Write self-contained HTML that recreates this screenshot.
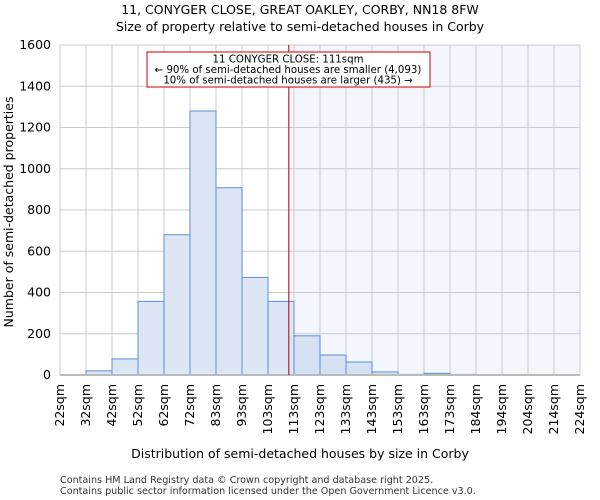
<!DOCTYPE html>
<html><head><meta charset="utf-8"><style>body{margin:0;background:#fff}svg{display:block;font-family:"DejaVu Sans","Liberation Sans",sans-serif}</style></head>
<body>
<svg id="chart" width="600" height="500">
<text x="300" y="14" text-anchor="middle" font-size="12.5">11, CONYGER CLOSE, GREAT OAKLEY, CORBY, NN18 8FW</text>
<text x="300" y="31" text-anchor="middle" font-size="12.5">Size of property relative to semi-detached houses in Corby</text>
<g id="plot"></g>
<text x="300" y="458" text-anchor="middle" font-size="12.5">Distribution of semi-detached houses by size in Corby</text>
<text transform="translate(13,212) rotate(-90)" text-anchor="middle" font-size="12.5">Number of semi-detached properties</text>
<text x="60" y="483" font-size="9.6" fill="#333">Contains HM Land Registry data © Crown copyright and database right 2025.</text>
<text x="60" y="494" font-size="9.6" fill="#333">Contains public sector information licensed under the Open Government Licence v3.0.</text>
</svg>
<script>
const binLabels=["22sqm","32sqm","42sqm","52sqm","62sqm","72sqm","83sqm","93sqm","103sqm","113sqm","123sqm","133sqm","143sqm","153sqm","163sqm","173sqm","184sqm","194sqm","204sqm","214sqm","224sqm"];
const counts=[0,20,78,357,680,1280,908,473,357,190,97,63,15,3,8,3,0,0,0,0,0];
const yTicks=[0,200,400,600,800,1000,1200,1400,1600];
const markerBin=8.8;
const L=60,R=580,T=45,B=375,yMax=1600,nb=20;
const xs=i=>L+(R-L)*i/nb;
const ys=v=>B-(B-T)*v/yMax;
const NS="http://www.w3.org/2000/svg";
const g=document.getElementById('plot');
function mk(t,a,p){const e=document.createElementNS(NS,t);for(const k in a)e.setAttribute(k,a[k]);(p||g).appendChild(e);return e;}
const mx=xs(markerBin);
const hl=mk('rect',{x:mx,y:T,width:R-mx,height:B-T,fill:'#f3f6fd'});


for(let i=0;i<=nb;i++){const l=mk('line',{x1:xs(i),x2:xs(i),y1:T,y2:B,stroke:'#ccc','stroke-width':1});

}
yTicks.forEach(v=>{const l=mk('line',{x1:L,x2:R,y1:ys(v),y2:ys(v),stroke:'#ccc','stroke-width':1});


const t=mk('text',{x:L-9,y:ys(v)+4,'text-anchor':'end','font-size':12.5});t.textContent=v;

});
for(let i=0;i<nb;i++){if(counts[i]<=0)continue;
const r=mk('rect',{x:xs(i),y:ys(counts[i]),width:xs(i+1)-xs(i),height:B-ys(counts[i]),fill:xs(i)>=mx?'#d6e1f3':'#dce6f4',stroke:'#5b8fd6','stroke-width':1});

}
mk('rect',{x:L,y:T,width:R-L,height:B-T,fill:'none',stroke:'#ccc'});
mk('line',{x1:L,x2:R,y1:B,y2:B,stroke:'#bbb','stroke-width':2});
binLabels.forEach((s,i)=>{const t=mk('text',{transform:`translate(${xs(i)+4},384) rotate(-90)`,'text-anchor':'end','font-size':12.5});t.textContent=s;

});
const ml=mk('line',{x1:mx,x2:mx,y1:T,y2:B,stroke:'#a00','stroke-width':1});


const box=mk('rect',{x:147,y:52,width:283,height:35,fill:'#fff',stroke:'#c00','stroke-width':1});


["11 CONYGER CLOSE: 111sqm","← 90% of semi-detached houses are smaller (4,093)","10% of semi-detached houses are larger (435) →"].forEach((s,i)=>{const t=mk('text',{x:288,y:62.5+i*10.5,'text-anchor':'middle','font-size':10.2});t.textContent=s;

});
</script>
</body></html>
